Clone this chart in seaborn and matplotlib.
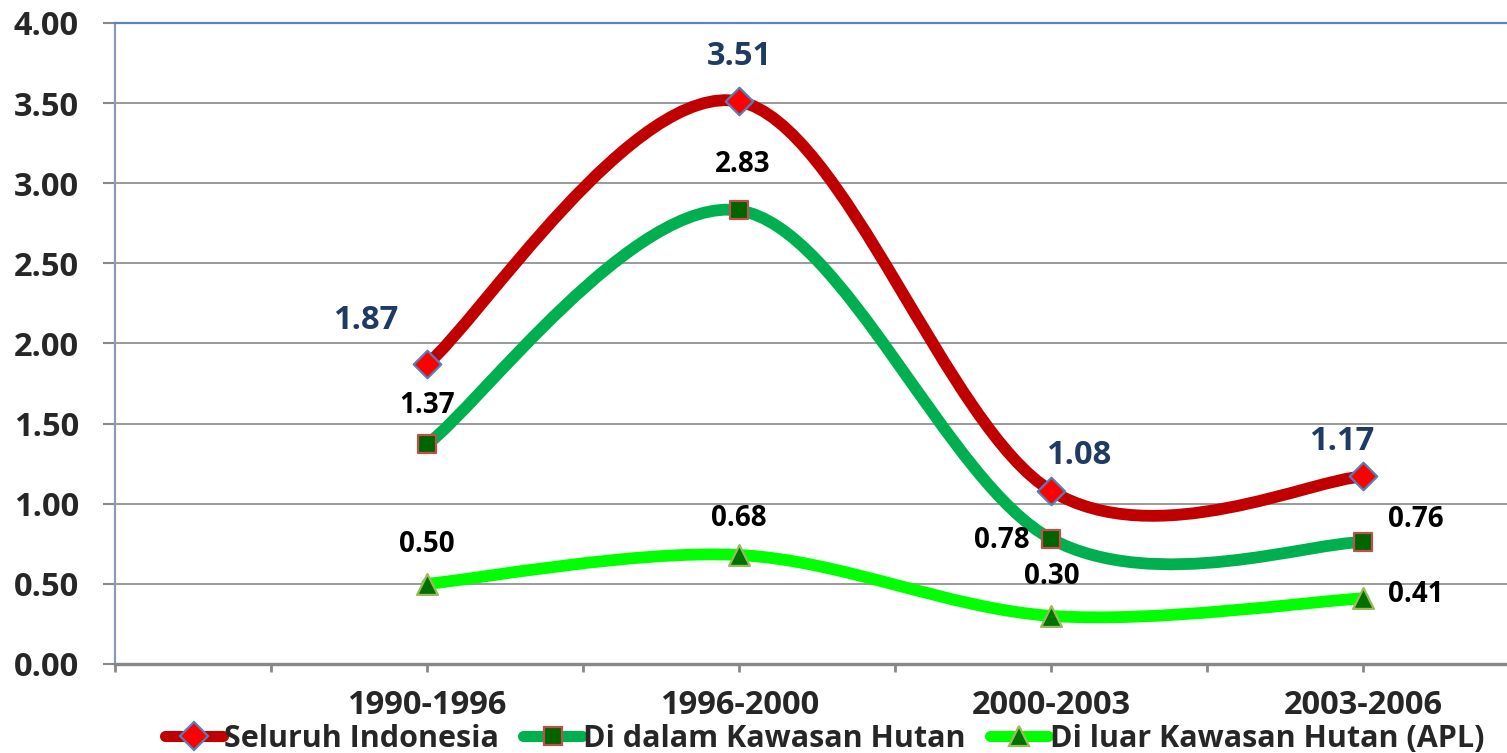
import numpy as np
import matplotlib
matplotlib.use("Agg")
import matplotlib.pyplot as plt
import seaborn as sns
from matplotlib.path import Path
from matplotlib.patches import PathPatch
from matplotlib.lines import Line2D

# data
periods = ['1990-1996', '1996-2000', '2000-2003', '2003-2006']
seluruh = [1.87, 3.51, 1.08, 1.17]
dalam = [1.37, 2.83, 0.78, 0.76]
luar = [0.50, 0.68, 0.30, 0.41]
series_names = ['Seluruh Indonesia', 'Di dalam Kawasan Hutan', 'Di luar Kawasan Hutan (APL)']

# label offsets in pixels (dx, dy), one per point
off_seluruh = [(-61, 44), (0, 45), (27, 35), (-22, 35)]
off_dalam = [(0, 39), (4, 46), (-50, -2), (52, 23)]
off_luar = [(0, 39), (0, 37), (0, 39), (52, 4)]

sns.set_style("white")
plt.rcParams['font.family'] = ['Open Sans', 'DejaVu Sans']


def smooth_path(xs, ys):
    # excel-like smoothed line: cubic bezier with catmull-rom control points
    pts = np.column_stack([xs, ys]).astype(float)
    n = len(pts)
    verts = [pts[0]]
    codes = [Path.MOVETO]
    for i in range(n - 1):
        p0 = pts[max(i - 1, 0)]
        p1 = pts[i]
        p2 = pts[i + 1]
        p3 = pts[min(i + 2, n - 1)]
        verts += [p1 + (p2 - p0) / 6.0, p2 - (p3 - p1) / 6.0, p2]
        codes += [Path.CURVE4] * 3
    return Path(verts, codes)


fig = plt.figure(figsize=(15.07, 7.53), dpi=100)
ax = fig.add_axes([0.0763, 0.1182, 0.9237, 0.8513])

x = np.arange(len(periods))

styles = [
    dict(line='#C00000', marker='D', face='#FF0000', edge='#4F81BD', ms=14, vals=seluruh,
         offs=off_seluruh, tcolor='#1F3B63', tsize=23.5),
    dict(line='#00B050', marker='s', face='#006400', edge='#C0504D', ms=13.5, vals=dalam,
         offs=off_dalam, tcolor='black', tsize=20),
    dict(line='#00FF00', marker='^', face='#007000', edge='#9BBB59', ms=15, vals=luar,
         offs=off_luar, tcolor='black', tsize=20),
]

handles = []
for st in styles:
    ax.add_patch(PathPatch(smooth_path(x, st['vals']), fill=False, edgecolor=st['line'],
                           lw=8.5, capstyle='round', joinstyle='round', zorder=3))
for st in styles:
    sns.scatterplot(x=x, y=st['vals'], marker=st['marker'], s=st['ms'] ** 2,
                    color=st['face'], edgecolor=st['edge'], linewidth=1.6,
                    zorder=5, ax=ax, legend=False)
    for xi, v, (dx, dy) in zip(x, st['vals'], st['offs']):
        ax.annotate(f'{v:.2f}', (xi, v), xytext=(dx, dy), textcoords='offset pixels',
                    ha='center', va='center', fontsize=st['tsize'], fontweight='bold',
                    color=st['tcolor'], zorder=6)
    handles.append(Line2D([0], [0], color=st['line'], lw=8, solid_capstyle='round',
                          marker=st['marker'], markersize=st['ms'],
                          markerfacecolor=st['face'], markeredgecolor=st['edge'],
                          markeredgewidth=1.6))

yt = np.arange(0, 4.01, 0.5)
ax.set_xlim(-1, 3.46)
ax.set_ylim(0, 4)
ax.set_yticks(yt)
ax.set_yticklabels([f'{v:.2f}' for v in yt], fontweight='bold')
ax.set_xticks(x)
ax.set_xticklabels(periods, fontweight='bold')
ax.set_xticks([-1, -0.5, 0.5, 1.5, 2.5], minor=True)

ax.grid(axis='y', color='#898989', lw=1.2)
ax.set_axisbelow(True)

ax.tick_params(axis='y', which='major', direction='out', length=9, width=1.5,
               color='#898989', pad=17, labelsize=23.5, left=True)
ax.tick_params(axis='x', which='both', direction='out', length=6, width=2,
               color='#898989', pad=12, labelsize=23.5, bottom=True)

ax.spines['right'].set_visible(False)
ax.spines['top'].set_color('#5B83BD')
ax.spines['top'].set_linewidth(1.6)
ax.spines['left'].set_color('#8A9BB8')
ax.spines['left'].set_linewidth(1.6)
ax.spines['bottom'].set_color('#878787')
ax.spines['bottom'].set_linewidth(2.4)

fig.legend(handles, series_names, loc='center', bbox_to_anchor=(0.547, 1 - 739 / 753),
           ncol=3, frameon=False, handlelength=1.9, handletextpad=0.05,
           columnspacing=0.8, borderpad=0, prop={'weight': 'bold', 'size': 22})

fig.savefig('out.png', dpi=100)
